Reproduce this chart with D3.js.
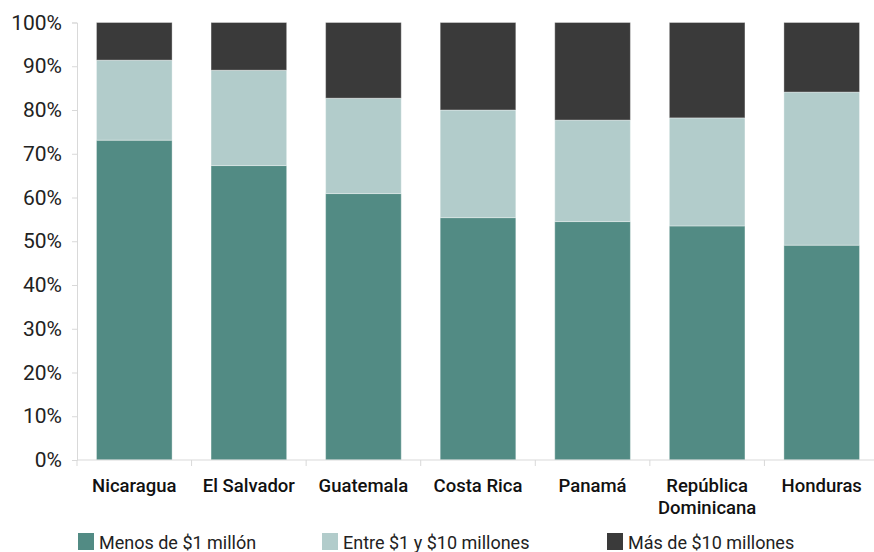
<!DOCTYPE html>
<html><head><meta charset="utf-8">
<script src="https://cdn.jsdelivr.net/npm/d3@7"></script>
<style>body{margin:0;background:#fff}svg{display:block}</style>
</head><body><svg id="c" width="874" height="552"></svg>
<script>
const categories = ["Nicaragua","El Salvador","Guatemala","Costa Rica","Panamá","República\nDominicana","Honduras"];
const seriesNames = ["Menos de $1 millón","Entre $1 y $10 millones","Más de $10 millones"];
const menos1 = [73.1, 67.3, 60.9, 55.4, 54.5, 53.5, 49.1];
const entre1y10 = [18.3, 21.8, 21.8, 24.6, 23.2, 24.7, 35.0];
const mas10 = [8.6, 10.9, 17.3, 20.0, 22.3, 21.8, 15.9];
const yTicks = [0,10,20,30,40,50,60,70,80,90,100];
const colors = ["#528b84","#b2cccb","#3a3a3a"];

const svg = d3.select("#c");
const x = d3.scaleBand().domain(categories).range([77, 879]).paddingInner(0.34).paddingOuter(0.17);
const y = d3.scaleLinear().domain([0,100]).range([460, 22.5]);

const rows = categories.map((c,i)=>({cat:c, s0:menos1[i], s1:entre1y10[i], s2:mas10[i]}));
const stack = d3.stack().keys(["s0","s1","s2"])(rows);

svg.append("g").selectAll("g").data(stack).join("g")
  .attr("fill",(d,i)=>colors[i])
  .selectAll("rect").data(d=>d).join("rect")
  .attr("x",d=>x(d.data.cat)).attr("width",x.bandwidth())
  .attr("y",d=>y(Math.min(100,d[1]))).attr("height",d=>y(d[0])-y(Math.min(100,d[1])))
  .attr("stroke","rgba(255,255,255,0.35)").attr("stroke-width",1);

// y axis
const ya = svg.append("g").attr("transform","translate(77,0)")
  .call(d3.axisLeft(y).tickValues(yTicks).tickFormat(d=>d+"%").tickSize(5).tickPadding(10));
ya.select(".domain").attr("stroke","#d9d9d9");
ya.selectAll(".tick line").attr("stroke","#d9d9d9");
ya.selectAll("text").attr("font-family","Roboto, sans-serif").attr("font-size",21).attr("fill","#222");

// x axis
const xa = svg.append("g").attr("transform","translate(0,460)")
  .call(d3.axisBottom(x).tickSize(0).tickFormat(""));
xa.select(".domain").attr("stroke","#d9d9d9").attr("d","M77,0H879");
const bounds = [77].concat(categories.map(c=>x(c)+x.bandwidth()+x.step()*x.paddingInner()/2));
svg.append("g").selectAll("line").data(bounds).join("line")
  .attr("x1",d=>d).attr("x2",d=>d).attr("y1",460).attr("y2",466).attr("stroke","#d9d9d9");
const lab = svg.append("g").selectAll("text").data(categories).join("text")
  .attr("x",d=>x(d)+x.bandwidth()/2).attr("y",492)
  .attr("text-anchor","middle").attr("font-family","Roboto, sans-serif")
  .attr("font-size",18.5).attr("font-weight",500).attr("fill","#111");
lab.each(function(d){
  const t=d3.select(this);
  d.split("\n").forEach((s,i)=>t.append("tspan").attr("x",x(d)+x.bandwidth()/2).attr("dy",i?22:0).text(s));
});

// legend
const legX = [78, 322, 607];
const lg = svg.append("g").selectAll("g").data(seriesNames).join("g")
  .attr("transform",(d,i)=>`translate(${legX[i]},533)`);
lg.append("rect").attr("width",16).attr("height",17).attr("fill",(d,i)=>colors[i]);
lg.append("text").attr("x",21).attr("y",16).attr("font-family","Roboto, sans-serif")
  .attr("font-size",18).attr("fill","#222").text(d=>d);
</script></body></html>
